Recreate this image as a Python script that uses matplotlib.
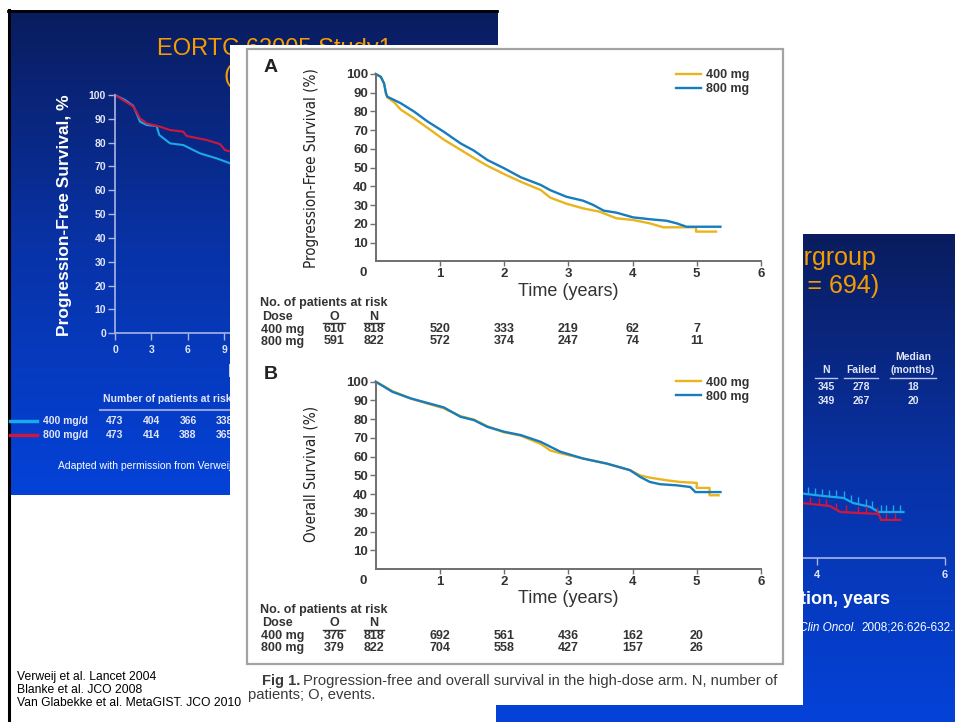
import numpy as np
import matplotlib
matplotlib.use("Agg")
import matplotlib.pyplot as plt
from matplotlib import font_manager as fm
from matplotlib.colors import LinearSegmentedColormap
from matplotlib.patches import Rectangle
from matplotlib.transforms import blended_transform_factory as blend

W, H = 955, 722

installed = {f.name for f in fm.fontManager.ttflist}
SANS = "Liberation Sans" if "Liberation Sans" in installed else "DejaVu Sans"
plt.rcParams["font.family"] = [SANS, "DejaVu Sans"]

# a condensed face for the journal figure's y labels, if one is installed
cond = [f for f in fm.fontManager.ttflist
        if ("Narrow" in f.name or "Condensed" in f.name or "condensed" in str(f.stretch))
        and f.style == "normal" and f.weight in (400, "normal", "regular")
        and "Mono" not in f.name]
if cond:
    YLAB_FP = fm.FontProperties(fname=cond[0].fname)
else:
    YLAB_FP = fm.FontProperties(family=SANS)

# ---- left slide: EORTC 62005, progression-free survival (months) ----
eortc_t_400 = [0, 0.82, 1.51, 1.78, 2.06, 2.61, 3.42, 3.65, 4.53, 5.62, 7.0, 8.37, 9.6]
eortc_v_400 = [100, 97.9, 95.4, 92.3, 88.8, 87.4, 87.0, 83.2, 79.7, 79.0, 75.5, 73.4, 71.1]
eortc_t_800 = [0, 1.51, 2.06, 2.61, 3.7, 4.53, 5.62, 5.9, 7.55, 8.64, 9.05, 9.6]
eortc_v_800 = [100, 95.1, 90.2, 88.1, 86.7, 85.3, 84.6, 82.8, 81.1, 79.4, 76.9, 76.1]
eortc_risk_months = [0, 3, 6, 9]
eortc_risk_400 = [473, 404, 366, 338]
eortc_risk_800 = [473, 414, 388, 365]

# ---- right slide: S0033 intergroup (years) ----
s0033_t_400 = [3.70, 4.09, 4.41, 4.56, 4.83, 4.96, 5.35]
s0033_v_400 = [29.5, 28.2, 27.3, 25.0, 23.2, 20.9, 20.9]
s0033_t_800 = [3.70, 4.20, 4.36, 4.63, 4.96, 5.00, 5.30]
s0033_v_800 = [25.2, 23.6, 20.9, 20.5, 20.0, 17.3, 17.3]
s0033_cens_400 = [3.86, 3.97, 4.08, 4.19, 4.30, 4.41, 4.52, 4.64, 4.77, 4.86, 4.99, 5.08, 5.19, 5.30]
s0033_cens_800 = [3.89, 4.02, 4.14, 4.30, 4.45, 4.64, 4.77, 4.93, 5.08, 5.21]
s0033_rows = [["345", "278", "18"], ["349", "267", "20"]]

# ---- Fig 1 panel A: progression-free survival (years) ----
pfs_t_400 = [0, 0.08, 0.13, 0.16, 0.18, 0.29, 0.39, 0.60, 0.81, 1.06, 1.32, 1.53, 1.74, 2.00,
             2.26, 2.57, 2.72, 2.97, 3.23, 3.49, 3.75, 4.01, 4.27, 4.48, 4.99, 4.99, 5.30]
pfs_v_400 = [100, 98.5, 95.0, 89.7, 87.6, 84.8, 81.0, 76.3, 71.2, 65.0, 59.6, 55.2, 51.0, 46.6,
             42.5, 38.1, 34.0, 30.8, 28.3, 26.5, 23.0, 22.1, 20.3, 18.2, 18.2, 15.9, 15.9]
pfs_t_800 = [0, 0.08, 0.13, 0.16, 0.18, 0.39, 0.60, 0.81, 1.06, 1.32, 1.53, 1.74, 2.00, 2.26,
             2.57, 2.72, 2.97, 3.23, 3.39, 3.55, 3.75, 4.01, 4.27, 4.53, 4.69, 4.84, 5.37]
pfs_v_800 = [100, 98.5, 95.0, 89.7, 87.9, 84.4, 79.9, 74.6, 69.2, 63.0, 59.1, 54.1, 49.7, 44.9,
             40.8, 38.0, 34.5, 32.4, 30.1, 27.1, 26.0, 23.5, 22.5, 21.7, 20.3, 18.5, 18.5]

# ---- Fig 1 panel B: overall survival (years) ----
os_t_400 = [0, 0.13, 0.26, 0.545, 0.80, 1.06, 1.32, 1.53, 1.74, 2.00, 2.26, 2.57, 2.72, 2.88,
            3.23, 3.60, 3.96, 4.12, 4.27, 4.53, 4.74, 5.00, 5.00, 5.20, 5.20, 5.34]
os_v_400 = [100, 97.6, 95.0, 91.0, 88.4, 85.8, 81.6, 79.8, 76.2, 73.0, 71.2, 66.8, 63.3, 61.8,
            59.0, 56.3, 52.8, 50.0, 48.8, 47.4, 46.5, 46.0, 43.3, 43.3, 39.4, 39.4]
os_t_800 = [0, 0.13, 0.26, 0.545, 0.80, 1.06, 1.32, 1.53, 1.74, 2.00, 2.26, 2.57, 2.72, 2.88,
            3.23, 3.60, 3.96, 4.12, 4.27, 4.43, 4.69, 4.90, 4.98, 5.37]
os_v_800 = [100, 97.3, 94.6, 91.1, 88.7, 86.3, 81.3, 79.5, 75.9, 73.3, 71.5, 67.9, 65.3, 62.6,
            59.0, 56.3, 52.8, 49.2, 46.5, 45.3, 44.7, 43.8, 41.1, 41.1]

risk_years = [1, 2, 3, 4, 5]
pfs_O, pfs_N = [610, 591], [818, 822]
pfs_risk_400 = [520, 333, 219, 62, 7]
pfs_risk_800 = [572, 374, 247, 74, 11]
os_O, os_N = [376, 379], [818, 822]
os_risk_400 = [692, 561, 436, 162, 20]
os_risk_800 = [704, 558, 427, 157, 26]

references = ["Verweij et al. Lancet 2004", "Blanke et al. JCO 2008",
              "Van Glabekke et al. MetaGIST. JCO 2010"]

ORANGE = "#f59d00"
CYAN, RED = "#1aa9ea", "#d0163c"
SL_AX, SL_TXT = "#a9b6e6", "#e2e6f7"
YEL, BLU = "#e9b41c", "#167cc0"
INK, AXC = "#333333", "#6e6e6e"

fig = plt.figure(figsize=(W / 100, H / 100), dpi=100)
fig.patch.set_facecolor("white")


def box(x0, y0, x1, y1, z):
    # axes placed by a pixel box, origin top-left
    ax = fig.add_axes([x0 / W, 1 - y1 / H, (x1 - x0) / W, (y1 - y0) / H], zorder=z)
    ax.patch.set_visible(False)
    return ax


def sheet(z):
    ax = box(0, 0, W, H, z)
    ax.set_xlim(0, W)
    ax.set_ylim(H, 0)
    ax.axis("off")
    return ax


# ---------------- background slides ----------------
bg = sheet(0)
slide_cmap = LinearSegmentedColormap.from_list("slide", ["#0a1c5e", "#0833a8", "#0442d8"])
ramp = np.linspace(0, 1, 256)[:, None]
bg.imshow(ramp, cmap=slide_cmap, extent=(9, 497, 495, 10), aspect="auto")
bg.imshow(ramp, cmap=slide_cmap, extent=(496, 955, 722, 234), aspect="auto")
bg.plot([8.5, 8.5], [10, H], color="black", lw=2.2)
bg.plot([8, 497], [11, 11], color="black", lw=2)

# left slide text
bg.text(157, 49, "EORTC 62005 Study1", color=ORANGE, fontsize=17, ha="left", va="center")
bg.text(224, 76, "(N = 946)", color=ORANGE, fontsize=17, ha="left", va="center")
bg.text(65, 215, "Progression-Free Survival, %", color="white", fontsize=12.5, weight="bold",
        rotation=90, ha="center", va="center")
bg.text(228, 372, "Duration, months", color="white", fontsize=13, weight="bold",
        ha="left", va="center")
bg.text(103, 399, "Number of patients at risk", color=SL_TXT, fontsize=7.5, weight="bold",
        ha="left", va="center")
bg.plot([100, 497], [410, 410], color="#8d9fe0", lw=1.5)
bg.plot([10, 37], [421, 421], color=CYAN, lw=2.5)
bg.plot([10, 37], [435, 435], color=RED, lw=2.5)
bg.text(43, 421, "400 mg/d", color=SL_TXT, fontsize=7.5, weight="bold", va="center")
bg.text(43, 435, "800 mg/d", color=SL_TXT, fontsize=7.5, weight="bold", va="center")
bg.text(58, 466, "Adapted with permission from Verweij et al. Lancet 2004", color="white",
        fontsize=7.5, va="center")

# right slide text
bg.text(877, 258, "Intergroup", color=ORANGE, fontsize=18, ha="right", va="center")
bg.text(879, 286, "(N = 694)", color=ORANGE, fontsize=18, ha="right", va="center")
for x, lab in [(826, "N"), (861, "Failed"), (913, "(months)")]:
    bg.text(x, 370, lab, color=SL_TXT, fontsize=7.5, weight="bold", ha="center", va="center")
bg.text(913, 357, "Median", color=SL_TXT, fontsize=7.5, weight="bold", ha="center", va="center")
for x0, x1 in [(815, 837), (844, 878), (890, 936)]:
    bg.plot([x0, x1], [378, 378], color="#b9c4ee", lw=1)
for y, row in zip([387, 401], s0033_rows):
    for x, val in zip([826, 861, 913], row):
        bg.text(x, y, val, color=SL_TXT, fontsize=7.5, weight="bold", ha="center", va="center")
bg.text(890, 600, "Duration, years", color="white", fontsize=13, weight="bold",
        ha="right", va="center")
bg.text(857, 628, "J Clin Oncol.", color="white", fontsize=8.5, style="italic",
        ha="right", va="center")
bg.text(861, 628, "2008;26:626-632.", color="white", fontsize=8.5, ha="left", va="center")

# ---------------- left slide plot ----------------
axL = box(115, 95, 479.5, 333.3, 1)
axL.plot(eortc_t_400, eortc_v_400, color=CYAN, lw=1.5, clip_on=False)
axL.plot(eortc_t_800, eortc_v_800, color=RED, lw=1.5, clip_on=False)
axL.set_xlim(0, 30)
axL.set_ylim(0, 100)
axL.set_xticks(range(0, 31, 3), [str(v) for v in range(0, 31, 3)], fontweight="bold")
axL.set_yticks(range(0, 101, 10), [str(v) for v in range(0, 101, 10)], fontweight="bold")
axL.spines[["top", "right"]].set_visible(False)
for s in ("left", "bottom"):
    axL.spines[s].set_color(SL_AX)
    axL.spines[s].set_linewidth(1.2)
axL.tick_params(colors=SL_AX, labelcolor=SL_TXT, labelsize=7.5, length=5, width=1)
axL.tick_params(axis="x", pad=3.5)
axL.tick_params(axis="y", pad=1.5)
trL = blend(axL.transData, bg.transData)
for m, a, b in zip(eortc_risk_months, eortc_risk_400, eortc_risk_800):
    bg.text(m, 421, str(a), transform=trL, color=SL_TXT, fontsize=7.5, weight="bold",
            ha="center", va="center")
    bg.text(m, 435, str(b), transform=trL, color=SL_TXT, fontsize=7.5, weight="bold",
            ha="center", va="center")

# ---------------- right slide plot ----------------
axR = box(562, 338, 945, 558, 1)
axR.plot(s0033_t_400, s0033_v_400, color=CYAN, lw=1.6)
axR.plot(s0033_t_800, s0033_v_800, color=RED, lw=1.6)
axR.plot(s0033_cens_400, np.interp(s0033_cens_400, s0033_t_400, s0033_v_400), ls="none",
         marker=2, ms=5, mew=1, color=CYAN)
axR.plot(s0033_cens_800, np.interp(s0033_cens_800, s0033_t_800, s0033_v_800), ls="none",
         marker=2, ms=5, mew=1, color=RED)
axR.set_xlim(0, 6)
axR.set_ylim(0, 100)
axR.set_xticks([0, 2, 4, 6], ["0", "2", "4", "6"], fontweight="bold")
axR.set_yticks([])
axR.spines[["top", "right"]].set_visible(False)
for s in ("left", "bottom"):
    axR.spines[s].set_color(SL_AX)
    axR.spines[s].set_linewidth(1.2)
axR.tick_params(colors=SL_AX, labelcolor=SL_TXT, labelsize=8, length=5, width=1, pad=3.5)

# ---------------- overlaid journal figure ----------------
ov = sheet(3)
ov.add_patch(Rectangle((230, 45), 573, 660, facecolor="white", edgecolor="none"))
ov.add_patch(Rectangle((247, 49), 536, 615, facecolor="none", edgecolor="#a3a3a3", lw=1.6))

# references sit on top of everything, bottom-left
for i, ref in enumerate(references):
    ov.text(17, 677 + 13 * i, ref, color="black", fontsize=8.7, ha="left", va="center")

panels = [
    dict(top=74, label="A", ylabel="Progression-Free Survival (%)", ylab_y=168,
         t4=pfs_t_400, v4=pfs_v_400, t8=pfs_t_800, v8=pfs_v_800,
         O=pfs_O, N=pfs_N, r4=pfs_risk_400, r8=pfs_risk_800, table_y=303),
    dict(top=381.7, label="B", ylabel="Overall Survival (%)", ylab_y=474,
         t4=os_t_400, v4=os_v_400, t8=os_t_800, v8=os_v_800,
         O=os_O, N=os_N, r4=os_risk_400, r8=os_risk_800, table_y=609.5),
]

ylab_texts = []
for p in panels:
    top = p["top"]
    ax = box(375.7, top, 760.9, top + 187.4, 4)
    ax.plot(p["t4"], p["v4"], color=YEL, lw=1.7, label="400 mg", clip_on=False)
    ax.plot(p["t8"], p["v8"], color=BLU, lw=1.7, label="800 mg", clip_on=False)
    ax.set_xlim(0, 6)
    ax.set_ylim(0, 100)
    ax.set_xticks(range(1, 7), [str(v) for v in range(1, 7)], fontweight="bold")
    ax.set_yticks(range(10, 101, 10), [str(v) for v in range(10, 101, 10)], fontweight="bold")
    ax.spines[["top", "right"]].set_visible(False)
    for s in ("left", "bottom"):
        ax.spines[s].set_color(AXC)
        ax.spines[s].set_linewidth(1.4)
    ax.tick_params(colors=AXC, labelcolor=INK, labelsize=9.5, width=1)
    ax.tick_params(axis="x", length=3.5, pad=1.5)
    ax.tick_params(axis="y", length=4.5, pad=1)
    ax.annotate("0", xy=(0, 0), xytext=(-12.7, -11.6), textcoords="offset pixels",
                ha="center", va="center", fontsize=9.5, weight="bold", color=INK)
    ax.legend(loc="upper left", bbox_to_anchor=(676 / W, 1 - (top - 5) / H),
              bbox_transform=fig.transFigure, frameon=False, borderpad=0, borderaxespad=0,
              handlelength=2.0, handletextpad=0.4, labelspacing=0.15,
              prop=dict(size=9, weight="bold"), labelcolor=INK)

    ov.text(271, top - 7, p["label"], fontsize=14, weight="bold", color="#222222",
            ha="center", va="center")
    t = ov.text(311, p["ylab_y"], p["ylabel"], fontproperties=YLAB_FP, fontsize=12,
                rotation=90, color="#222222", ha="center", va="center")
    ylab_texts.append(t)
    tr = blend(ax.transData, ov.transData)
    ov.text(3, top + 217, "Time (years)", transform=tr, fontsize=13, color=INK,
            ha="center", va="center")

    ty = p["table_y"]
    kw = dict(fontsize=9, weight="bold", color=INK, va="center")
    ov.text(260, ty, "No. of patients at risk", ha="left", **kw)
    ov.text(262, ty + 14, "Dose", ha="left", **kw)
    ov.text(334, ty + 14, "O", ha="center", **kw)
    ov.text(374, ty + 14, "N", ha="center", **kw)
    ov.plot([323, 345], [ty + 20, ty + 20], color=INK, lw=1)
    ov.plot([364, 384], [ty + 20, ty + 20], color=INK, lw=1)
    for k, (dose, risk) in enumerate([("400 mg", p["r4"]), ("800 mg", p["r8"])]):
        y = ty + 26.5 + 12 * k
        ov.text(261, y, dose, ha="left", **kw)
        ov.text(334, y, str(p["O"][k]), ha="center", **kw)
        ov.text(374, y, str(p["N"][k]), ha="center", **kw)
        for yr, n in zip(risk_years, risk):
            ov.text(yr, y, str(n), transform=tr, ha="center", **kw)

# size the y labels so the long one spans the same height as in the journal figure
renderer = fig.canvas.get_renderer()
span = ylab_texts[0].get_window_extent(renderer).height
for t in ylab_texts:
    t.set_fontsize(12 * 200 / span)

# caption
ov.text(262, 681.5, "Fig 1.", fontsize=10.6, weight="bold", color="#3a3a3a",
        ha="left", va="center")
ov.text(303, 681.5, "Progression-free and overall survival in the high-dose arm. N, number of",
        fontsize=10.6, color="#3a3a3a", ha="left", va="center")
ov.text(248, 695, "patients; O, events.", fontsize=10.6, color="#3a3a3a", ha="left", va="center")

fig.savefig("out.png", dpi=100, facecolor="white")
